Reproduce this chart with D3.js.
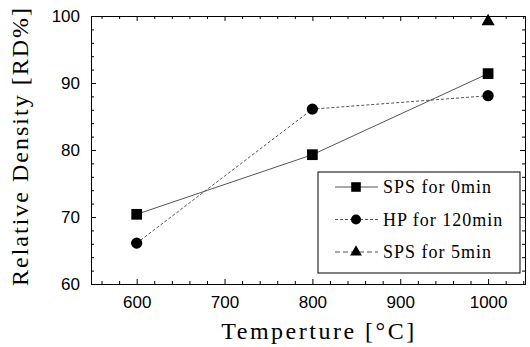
<!DOCTYPE html>
<html>
<head>
<meta charset="utf-8">
<script src="https://cdn.jsdelivr.net/npm/d3@7"></script>
<style>
  body { margin: 0; background: #fff; }
  .tick text { font-family: "Liberation Sans", Arial, sans-serif; font-size: 17px; fill: #000; }
  .domain, .tick line { stroke: #000; }
  .serif { font-family: "Liberation Serif", "Times New Roman", serif; fill: #000; }
</style>
</head>
<body>
<div id="chart-area"></div>
<script>
// data
var temps = [600, 800, 1000];
var sps0 = [70.4, 79.3, 91.4];
var hp120 = [66.1, 86.1, 88.1];
var sps5Temps = [1000];
var sps5 = [99.2];

var xMajor = [600, 700, 800, 900, 1000];
var yMajor = [60, 70, 80, 90, 100];

var width = 530, height = 347;
var margin = { left: 91, top: 16, right: 5, bottom: 63 };
var plotW = width - margin.left - margin.right,
    plotH = height - margin.top - margin.bottom;

var svg = d3.select("#chart-area").append("svg")
    .attr("width", width)
    .attr("height", height);
var g = svg.append("g")
    .attr("transform", "translate(" + margin.left + "," + margin.top + ")");

// Scales
var x = d3.scaleLinear().domain([548, 1042]).range([0, plotW]);
var y = d3.scaleLinear().domain([60, 100]).range([plotH, 0]);

var xMinor = d3.range(560, 1041, 20).filter(function(v){ return v % 100 != 0; });
var yMinor = d3.range(60, 100, 2).filter(function(v){ return v % 10 != 0; });

// Axes (ticks point inwards)
function drawAxis(axisFn, scale, major, minor, tr, padding, labels) {
    var a = g.append("g").attr("transform", tr);
    a.call(axisFn(scale).tickValues(major).tickSize(-5).tickPadding(padding)
        .tickFormat(labels ? d3.format("d") : ""));
    var m = g.append("g").attr("transform", tr);
    m.call(axisFn(scale).tickValues(minor).tickSize(-3).tickFormat(""));
    m.select(".domain").remove();
    return a;
}
drawAxis(d3.axisBottom, x, xMajor, xMinor, "translate(0," + plotH + ")", 12, true);
drawAxis(d3.axisTop, x, xMajor, xMinor, "translate(0,0)", 3, false);
drawAxis(d3.axisLeft, y, yMajor, yMinor, "translate(0,0)", 11, true);
drawAxis(d3.axisRight, y, yMajor, yMinor, "translate(" + plotW + ",0)", 3, false);

// Axis titles
g.append("text")
    .attr("class", "serif")
    .attr("x", 228)
    .attr("y", plotH + 55)
    .attr("text-anchor", "middle")
    .attr("font-size", "24px")
    .attr("letter-spacing", "2.5px")
    .text("Temperture [°C]");
g.append("text")
    .attr("class", "serif")
    .attr("transform", "rotate(-90)")
    .attr("x", -130)
    .attr("y", -63)
    .attr("text-anchor", "middle")
    .attr("font-size", "24px")
    .attr("letter-spacing", "2px")
    .text("Relative Density [RD%]");

// Lines
var series = [
    { name: "SPS for 0min", xs: temps, ys: sps0, dash: null, shape: d3.symbolSquare, size: 115 },
    { name: "HP for 120min", xs: temps, ys: hp120, dash: "3,2", shape: d3.symbolCircle, size: 100 },
    { name: "SPS for 5min", xs: sps5Temps, ys: sps5, dash: "5,3", shape: d3.symbolTriangle, size: 75 }
];

var line = d3.line()
    .x(function(d){ return x(d[0]); })
    .y(function(d){ return y(d[1]); });

series.forEach(function(s) {
    var pts = s.xs.map(function(v, i){ return [v, s.ys[i]]; });
    g.append("path")
        .attr("d", line(pts))
        .attr("fill", "none")
        .attr("stroke", "#555")
        .attr("stroke-width", 1)
        .attr("stroke-dasharray", s.dash);
    g.selectAll(null).data(pts).enter().append("path")
        .attr("transform", function(d){ return "translate(" + x(d[0]) + "," + y(d[1]) + ")"; })
        .attr("d", d3.symbol().type(s.shape).size(s.size))
        .attr("fill", "#000");
});

// Legend
var legend = g.append("g").attr("transform", "translate(227,156)");
legend.append("rect")
    .attr("width", 202)
    .attr("height", 101)
    .attr("fill", "#fff")
    .attr("stroke", "#000")
    .attr("stroke-width", 1);
series.forEach(function(s, i) {
    var row = legend.append("g").attr("transform", "translate(0," + (15 + i * 32.5) + ")");
    row.append("line")
        .attr("x1", 17).attr("x2", 60)
        .attr("stroke", "#555")
        .attr("stroke-dasharray", s.dash);
    row.append("path")
        .attr("transform", "translate(38,0)")
        .attr("d", d3.symbol().type(s.shape).size(s.size * 0.8))
        .attr("fill", "#000");
    row.append("text")
        .attr("class", "serif")
        .attr("x", 65)
        .attr("y", 6)
        .attr("font-size", "18px")
        .attr("letter-spacing", "1px")
        .text(s.name);
});
</script>
</body>
</html>
